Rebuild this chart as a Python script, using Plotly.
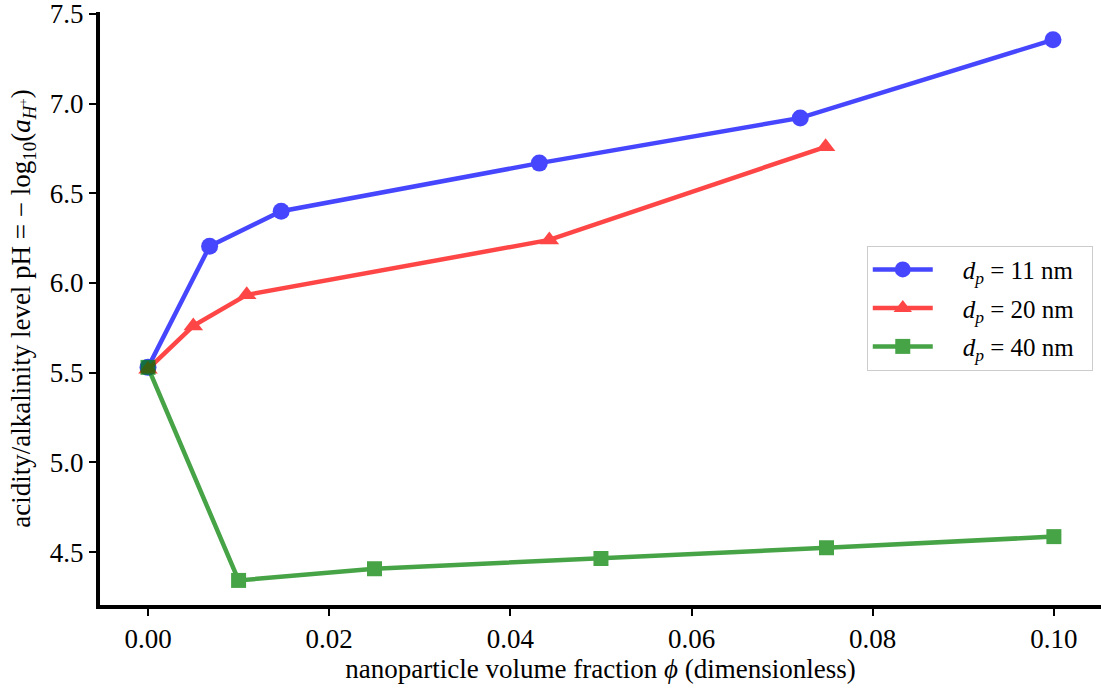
import plotly.graph_objects as go

phi_11 = [0.0, 0.0068, 0.0147, 0.0432, 0.0720, 0.0999]
ph_11 = [5.53, 6.205, 6.40, 6.668, 6.920, 7.355]

phi_20 = [0.0, 0.0050, 0.0109, 0.0443, 0.0748]
ph_20 = [5.52, 5.761, 5.934, 6.240, 6.759]

phi_40 = [0.0, 0.0100, 0.0250, 0.0500, 0.0749, 0.1000]
ph_40 = [5.53, 4.343, 4.408, 4.465, 4.525, 4.587]

x_ticks = [0.0, 0.02, 0.04, 0.06, 0.08, 0.10]
x_tick_labels = ["0.00", "0.02", "0.04", "0.06", "0.08", "0.10"]
y_ticks = [4.5, 5.0, 5.5, 6.0, 6.5, 7.0, 7.5]
y_tick_labels = ["4.5", "5.0", "5.5", "6.0", "6.5", "7.0", "7.5"]

series = [
    (phi_11, ph_11, "11", "rgb(0,0,255)", "circle", 17),
    (phi_20, ph_20, "20", "rgb(255,0,0)", "triangle-up", 17),
    (phi_40, ph_40, "40", "rgb(0,128,0)", "square", 15),
]

fig = go.Figure()
for xs, ys, dp, color, sym, msize in series:
    fig.add_trace(go.Scatter(
        x=xs, y=ys,
        name="\u00a0\u00a0\u00a0\u00a0<i>d</i><sub><i>p</i></sub> = " + dp + " nm\u00a0\u00a0",
        legendgroup=dp, mode="lines+markers",
        line=dict(color=color, width=4.5),
        marker=dict(color=color, symbol=sym, size=msize, line=dict(width=0)),
        opacity=0.72,
    ))

font = "Liberation Serif"
fig.update_layout(
    width=1101, height=690,
    margin=dict(l=100, r=0, t=12, b=85),
    paper_bgcolor="white", plot_bgcolor="white",
    font=dict(family=font, size=26, color="black"),
    legend=dict(
        x=0.766, y=0.606, xanchor="left", yanchor="top",
        bgcolor="rgba(255,255,255,0.8)", bordercolor="#cccccc", borderwidth=1,
        font=dict(family=font, size=25),
        itemwidth=60, tracegroupgap=3,
    ),
    xaxis=dict(
        range=[-0.0053, 0.1052], tickvals=x_ticks, ticktext=x_tick_labels,
        showgrid=False, zeroline=False, showline=True, linecolor="black", linewidth=4,
        ticks="outside", ticklen=7, tickwidth=2, tickcolor="black",
        tickfont=dict(family=font, size=27), ticklabeloverflow="allow",
        title=dict(text="nanoparticle volume fraction <i>ϕ</i> (dimensionless)",
                   font=dict(family=font, size=27), standoff=4),
    ),
    yaxis=dict(
        range=[4.206, 7.51], tickvals=y_ticks, ticktext=y_tick_labels,
        showgrid=False, zeroline=False, showline=True, linecolor="black", linewidth=4,
        ticks="outside", ticklen=7, tickwidth=2, tickcolor="black",
        tickfont=dict(family=font, size=27), ticklabeloverflow="allow",
        title=dict(text="acidity/alkalinity level pH = − log<sub>10</sub>(<i>a</i><sub><i>H</i><sup>+</sup></sub>)",
                   font=dict(family=font, size=27), standoff=12),
    ),
)
fig.write_html("out.html")
